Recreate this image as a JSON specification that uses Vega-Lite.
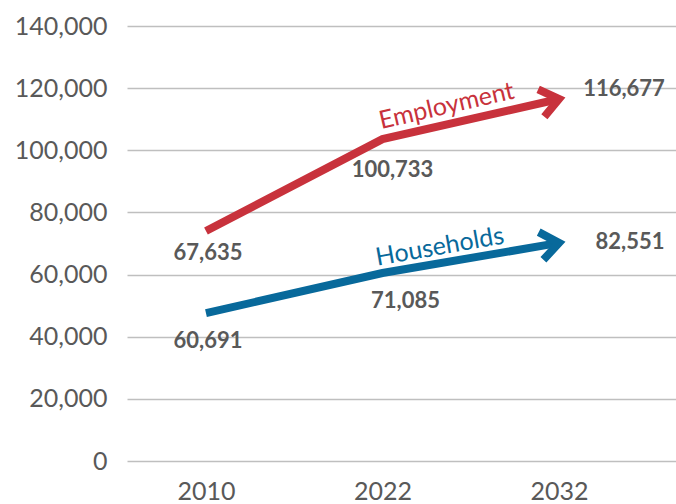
{
  "$schema": "https://vega.github.io/schema/vega-lite/v6.json",
  "width": 549,
  "height": 435,
  "autosize": "none",
  "padding": {"left": 127, "top": 26, "right": 0, "bottom": 43},
  "config": {"view": {"stroke": null}, "font": "Lato"},
  "data": {"values": [
    {"year": "2010", "series": "Employment", "value": 74000, "label": "67,635"},
    {"year": "2022", "series": "Employment", "value": 103600, "label": "100,733"},
    {"year": "2032", "series": "Employment", "value": 116500, "label": "116,677"},
    {"year": "2010", "series": "Households", "value": 47600, "label": "60,691"},
    {"year": "2022", "series": "Households", "value": 60500, "label": "71,085"},
    {"year": "2032", "series": "Households", "value": 70200, "label": "82,551"}
  ]},
  "encoding": {
    "x": {"field": "year", "type": "ordinal", "sort": null,
      "scale": {"type": "point", "domain": ["2010", "2022", "2032"], "padding": 0.555, "align": 0.403},
      "axis": {"title": null, "labelAngle": 0, "domain": false, "ticks": false, "grid": false, "labelFontSize": 25, "labelColor": "#595959", "labelPadding": 18, "labelFont": "Lato"}},
    "y": {"field": "value", "type": "quantitative",
      "scale": {"domain": [0, 140000], "nice": false, "zero": true},
      "axis": {"title": null, "values": [0, 20000, 40000, 60000, 80000, 100000, 120000, 140000], "format": ",.0f", "domain": false, "ticks": false, "grid": true, "gridColor": "#BFBFBF", "gridWidth": 1.5, "labelFontSize": 25, "labelColor": "#595959", "labelPadding": 20, "labelFont": "Lato"}}
  },
  "layer": [
    {
      "mark": {"type": "line", "strokeWidth": 8, "strokeCap": "butt"},
      "encoding": {
        "color": {"field": "series", "type": "nominal", "scale": {"domain": ["Employment", "Households"], "range": ["#C8323C", "#08699B"]}, "legend": null}
      }
    },
    {
      "transform": [{"filter": "datum.year == '2032' && datum.series == 'Employment'"}],
      "mark": {"type": "point", "shape": "M-1.3,-1L0,0L-1.3,1", "filled": false, "strokeWidth": 8, "size": 784, "angle": -12.8, "strokeJoin": "miter", "opacity": 1, "color": "#C8323C"}
    },
    {
      "transform": [{"filter": "datum.year == '2032' && datum.series == 'Households'"}],
      "mark": {"type": "point", "shape": "M-1.3,-1L0,0L-1.3,1", "filled": false, "strokeWidth": 8, "size": 784, "angle": -9.7, "strokeJoin": "miter", "opacity": 1, "color": "#08699B"}
    },
    {
      "transform": [{"filter": "datum.year == '2022' && datum.series == 'Employment'"}],
      "mark": {"type": "text", "fontSize": 25, "color": "#C8323C", "angle": -13, "dx": 70, "dy": -18, "align": "center", "baseline": "middle"},
      "encoding": {"text": {"field": "series"}}
    },
    {
      "transform": [{"filter": "datum.year == '2022' && datum.series == 'Households'"}],
      "mark": {"type": "text", "fontSize": 25, "color": "#08699B", "angle": -10, "dx": 61, "dy": -16, "align": "center", "baseline": "middle"},
      "encoding": {"text": {"field": "series"}}
    },
    {
      "transform": [{"filter": "datum.year == '2010' && datum.series == 'Employment'"}],
      "mark": {"type": "text", "fontSize": 22, "fontWeight": "bold", "color": "#595959", "dx": 2, "dy": 22, "align": "center", "baseline": "middle"},
      "encoding": {"text": {"field": "label"}}
    },
    {
      "transform": [{"filter": "datum.year == '2010' && datum.series == 'Households'"}],
      "mark": {"type": "text", "fontSize": 22, "fontWeight": "bold", "color": "#595959", "dx": 2, "dy": 28, "align": "center", "baseline": "middle"},
      "encoding": {"text": {"field": "label"}}
    },
    {
      "transform": [{"filter": "datum.year == '2022' && datum.series == 'Employment'"}],
      "mark": {"type": "text", "fontSize": 22, "fontWeight": "bold", "color": "#595959", "dx": 10, "dy": 31, "align": "center", "baseline": "middle"},
      "encoding": {"text": {"field": "label"}}
    },
    {
      "transform": [{"filter": "datum.year == '2022' && datum.series == 'Households'"}],
      "mark": {"type": "text", "fontSize": 22, "fontWeight": "bold", "color": "#595959", "dx": 23, "dy": 28, "align": "center", "baseline": "middle"},
      "encoding": {"text": {"field": "label"}}
    },
    {
      "transform": [{"filter": "datum.year == '2032' && datum.series == 'Employment'"}],
      "mark": {"type": "text", "fontSize": 22, "fontWeight": "bold", "color": "#595959", "dx": 65, "dy": -10, "align": "center", "baseline": "middle"},
      "encoding": {"text": {"field": "label"}}
    },
    {
      "transform": [{"filter": "datum.year == '2032' && datum.series == 'Households'"}],
      "mark": {"type": "text", "fontSize": 22, "fontWeight": "bold", "color": "#595959", "dx": 71, "dy": -1, "align": "center", "baseline": "middle"},
      "encoding": {"text": {"field": "label"}}
    }
  ]
}
